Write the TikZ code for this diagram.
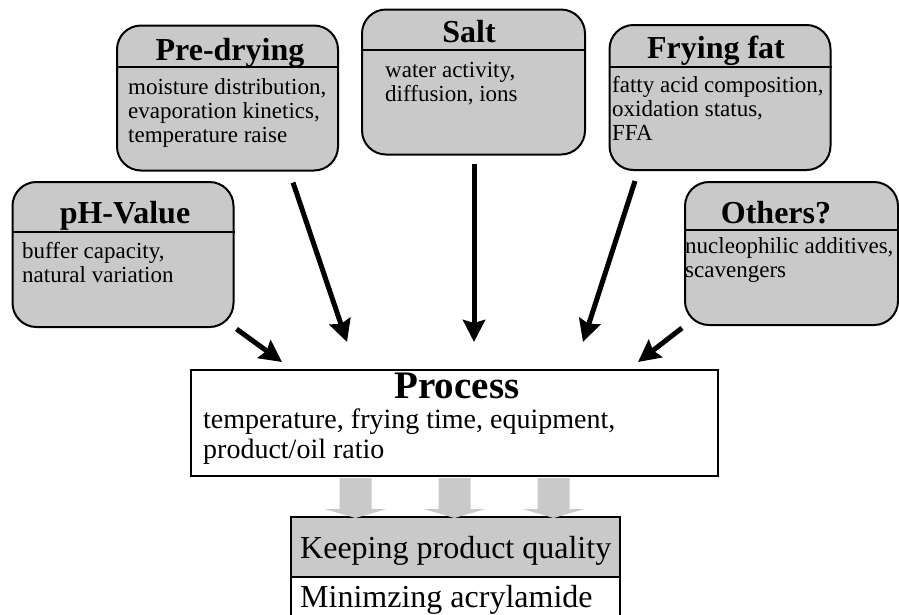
\documentclass[tikz,border=0pt]{standalone}
\usepackage{fontspec}
\setmainfont{Liberation Serif}
\usetikzlibrary{arrows.meta,calc,positioning}

\definecolor{dotgray}{gray}{0.79}

\tikzset{
  factor/.style={draw, line width=2pt, rounded corners=24pt, fill=dotgray, inner sep=0pt,
    minimum width=221pt, minimum height=145pt},
  factortitle/.style={font=\fontsize{32}{34}\selectfont\bfseries, anchor=base, inner sep=0pt},
  % base of a multi-line node sits on its last line
  factortext/.style={font=\fontsize{23}{24}\selectfont, align=left, anchor=base west, inner sep=0pt},
  push/.style={line width=5pt, -{Stealth[length=22pt,width=22pt,inset=3pt]}},
  flow/.style={fill=dotgray},
}

\begin{document}
\begin{tikzpicture}[x=1pt,y=-1pt]
\useasboundingbox (0,0) rectangle (899,614);
\clip (0,0) rectangle (899,614);

% influencing factors
\node[factor] (ph) at (123,254.5) {};
\draw[line width=2pt] (ph.west |- 0,232) -- (ph.east |- 0,232);
\node[factortitle] (ph-t) at (125,223) {pH-Value};
\node[factortext] (ph-d) at (22,282) {buffer capacity,\\natural variation};

\node[factor] (predry) at (227.5,98) {};
\draw[line width=2pt] (predry.west |- 0,67) -- (predry.east |- 0,67);
\node[factortitle] (predry-t) at (230,60) {Pre-drying};
\node[factortext] (predry-d) at (128,142) {moisture distribution,\\evaporation kinetics,\\temperature raise};

\node[factor, minimum width=223pt] (salt) at (473.5,82) {};
\draw[line width=2pt] (salt.west |- 0,50) -- (salt.east |- 0,50);
\node[factortitle] (salt-t) at (469,42) {Salt};
\node[factortext] (salt-d) at (385,101) {water activity,\\diffusion, ions};

\node[factor] (fat) at (720,97.5) {};
\draw[line width=2pt] (fat.west |- 0,67) -- (fat.east |- 0,67);
\node[factortitle] (fat-t) at (716,58) {Frying fat};
\node[factortext] (fat-d) at (612,140) {fatty acid composition,\\oxidation status,\\FFA};

\node[factor, minimum width=213pt, minimum height=143pt] (others) at (791.5,253.5) {};
\draw[line width=2pt] (others.west |- 0,230) -- (others.east |- 0,230);
\node[factortitle] (others-t) at (776,223) {Others?};
\node[factortext] (others-d) at (685,277) {nucleophilic additives,\\scavengers};

% process box
\node[draw, line width=2pt, inner sep=0pt, minimum width=527pt, minimum height=106pt] (process) at (454.5,423) {};
\node[font=\fontsize{39}{40}\selectfont\bfseries, anchor=base, inner sep=0pt] (process-t) at (457,398) {Process};
\node[font=\fontsize{28}{30}\selectfont, align=left, anchor=base west, inner sep=0pt] (process-d) at (203,458)
  {temperature, frying time, equipment,\\product/oil ratio};

% aims
\node[draw, line width=2.5pt, fill=dotgray, inner sep=0pt, minimum width=329pt, minimum height=60pt] (keep) at (455.5,547) {};
\node[draw, line width=2.5pt, fill=white, inner sep=0pt, minimum width=329pt, minimum height=60pt] (aim) at (455.5,607) {};
\node[font=\fontsize{32}{34}\selectfont, anchor=base west, inner sep=0pt] (keep-t) at (300,558) {Keeping product quality};
\node[font=\fontsize{32}{34}\selectfont, anchor=base west, inner sep=0pt] (aim-t) at (300,607) {Minimzing acrylamide};

% factor arrows
\draw[push] ($(ph.south east)+(2,1)$) -- ($(process.north west)+(92,-7)$);
\draw[push] ($(predry.south)+(65.5,11)$) -- ($(process.north)+(-107.5,-27)$);
\draw[push] ($(salt.south)+(0.5,8)$) -- ($(process.north)+(19.5,-27)$);
\draw[push] ($(fat.south)+(-85,10)$) -- ($(process.north)+(128.5,-27)$);
\draw[push] ($(others.south west)+(-2,2)$) -- ($(process.north east)+(-81,-7)$);

% broad arrows down to the aims
\foreach \dx in {-99,0,99}
  \fill[flow] ($(process.south)+(\dx-16,1)$) -- ++(32,0) -- ++(0,31) -- ++(15,0)
    -- ++(-31,9) -- ++(-31,-9) -- ++(15,0) -- cycle;
\end{tikzpicture}
\end{document}
